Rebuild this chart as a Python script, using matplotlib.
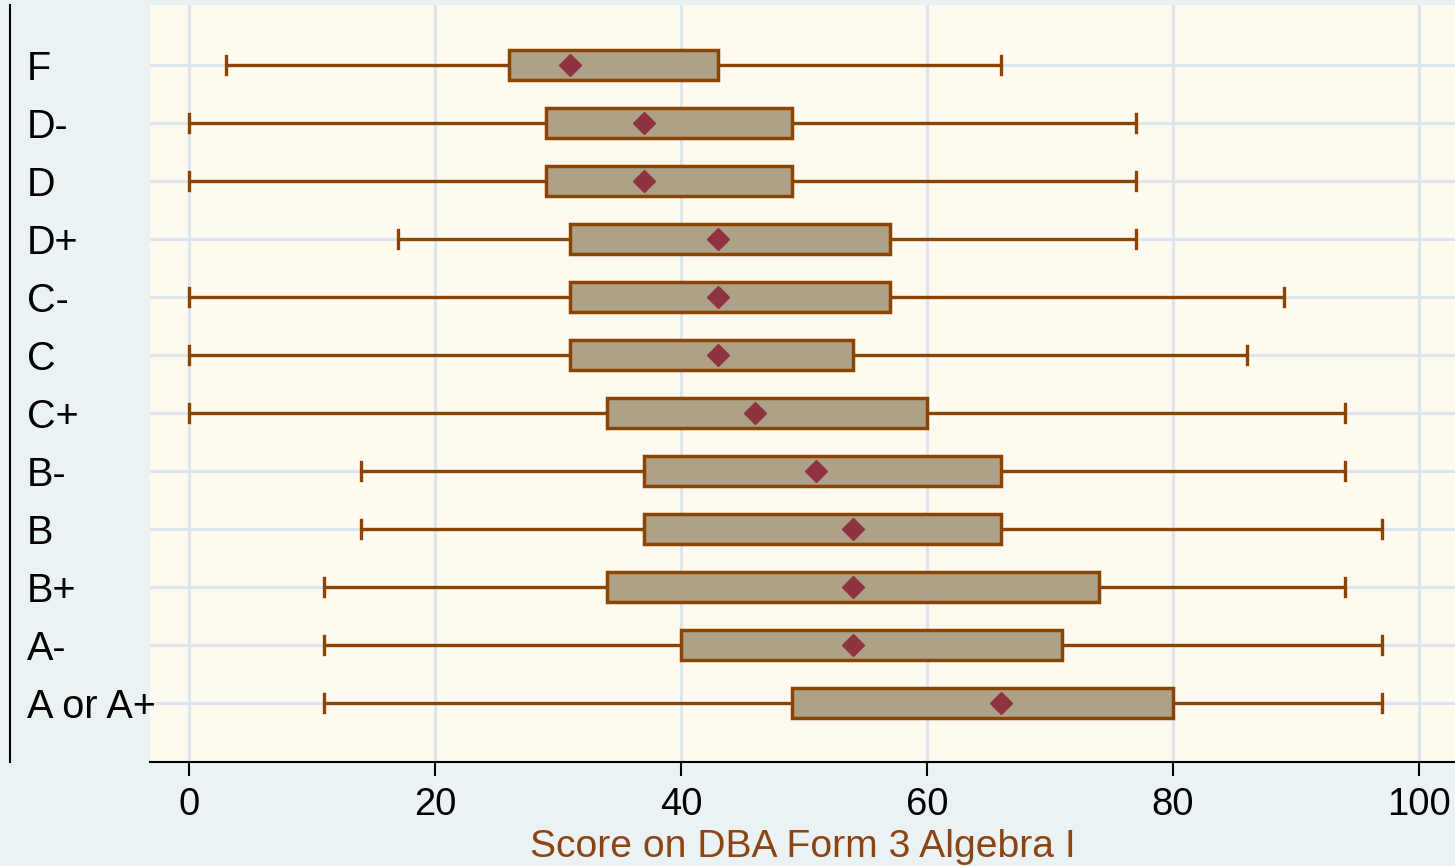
import matplotlib
matplotlib.use("Agg")
import matplotlib.pyplot as plt
from matplotlib.lines import Line2D

plt.rcParams['font.family'] = ['Liberation Sans', 'DejaVu Sans']

categories = ["F", "D-", "D", "D+", "C-", "C", "C+", "B-", "B", "B+", "A-", "A or A+"]
whisker_low = [3, 0, 0, 17, 0, 0, 0, 14, 14, 11, 11, 11]
q1 = [26, 29, 29, 31, 31, 31, 34, 37, 37, 34, 40, 49]
marker_val = [31, 37, 37, 43, 43, 43, 46, 51, 54, 54, 54, 66]
q3 = [43, 49, 49, 57, 57, 54, 60, 66, 66, 74, 71, 80]
whisker_high = [66, 77, 77, 77, 89, 86, 94, 94, 97, 94, 97, 97]
xticks = [0, 20, 40, 60, 80, 100]
xlabel = "Score on DBA Form 3 Algebra I"

BOX_FILL = "#ADA288"
EDGE = "#8B4500"
MARK = "#8F3340"
GRID = "#DDE8EE"
OUTER = "#EAF2F3"
INNER = "#FFFAF0"

fig = plt.figure(figsize=(14.55, 8.66), dpi=100, facecolor=OUTER)
ax = fig.add_axes([150/1455, 1-762/866, 1305/1455, 757/866])
ax.set_facecolor(INNER)

n = len(categories)
positions = [n - 1 - i for i in range(n)]
stats = []
for i in range(n):
    stats.append(dict(whislo=whisker_low[i], q1=q1[i], med=marker_val[i], q3=q3[i],
                      whishi=whisker_high[i], mean=marker_val[i], fliers=[]))

ax.bxp(stats, positions=positions, vert=False, widths=0.52, capwidths=0.31,
       patch_artist=True, showmeans=True, showfliers=False,
       boxprops=dict(facecolor=BOX_FILL, edgecolor=EDGE, linewidth=2.5),
       whiskerprops=dict(color=EDGE, linewidth=2.4, solid_capstyle='butt'),
       capprops=dict(color=EDGE, linewidth=2.4),
       medianprops=dict(linewidth=0),
       meanprops=dict(marker='D', markerfacecolor=MARK, markeredgecolor=MARK,
                      markersize=11.5))

ax.set_xlim((150-189)/12.3, (1455-189)/12.3)
ax.set_ylim(-1.02, n - 1 + 1.03)
ax.set_xticks(xticks)
ax.set_xticklabels([str(t) for t in xticks], fontsize=27.5)
ax.set_yticks(positions)
ax.set_yticklabels(categories, fontsize=28.5)
for lab in ax.get_yticklabels():
    lab.set_horizontalalignment('left')
ax.tick_params(axis='y', length=0, pad=(150-27)*0.72)
ax.tick_params(axis='x', length=10, width=1.5, pad=8, color='black')

ax.grid(True, color=GRID, linewidth=2.3, zorder=0)
ax.set_axisbelow(True)

for s in ['top', 'right', 'left']:
    ax.spines[s].set_visible(False)
ax.spines['bottom'].set_linewidth(1.5)

# separate left axis line, as in the reference
fig.add_artist(Line2D([10/1455, 10/1455], [1-762/866, 1-5/866],
                      transform=fig.transFigure, color='black', linewidth=1.5))

ax.set_xlabel(xlabel, fontsize=28.2, color="#8B4513", labelpad=4)

fig.savefig("out.png", dpi=100, facecolor=OUTER)
